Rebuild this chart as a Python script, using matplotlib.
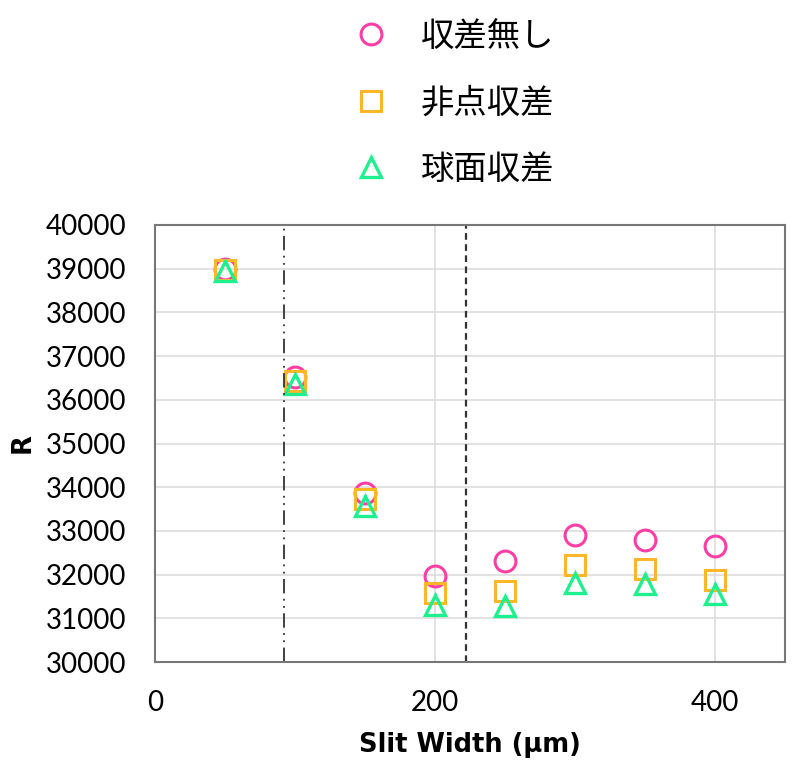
import matplotlib.pyplot as plt

plt.rcParams['font.family'] = ['Lato', 'DejaVu Sans', 'Noto Sans CJK JP']

slit = [50, 100, 150, 200, 250, 300, 350, 400]
r_none = [39000, 36530, 33870, 31970, 32310, 32910, 32790, 32650]
r_astig = [38980, 36420, 33720, 31570, 31620, 32220, 32130, 31880]
r_spher = [38950, 36360, 33580, 31300, 31280, 31810, 31780, 31560]
labels = ['収差無し', '非点収差', '球面収差']
vline_dashdot = 92
vline_dashed = 222

fig = plt.figure(figsize=(8, 7.64), dpi=100)
ax = fig.add_axes([0.194, 0.1335, 0.787, 0.572])

# hollow markers, one series per aberration case
h1, = ax.plot(slit, r_none, 'o', ms=15, mfc='none', mec='#FF3FA4', mew=2.2, label=labels[0])
h2, = ax.plot(slit, r_astig, 's', ms=14.5, mfc='none', mec='#FFB629', mew=2.2, label=labels[1])
h3, = ax.plot(slit, r_spher, '^', ms=15, mfc='none', mec='#1EF08F', mew=2.4, label=labels[2])

ax.axvline(vline_dashdot, color='#333333', lw=1.3, ls=(0, (8, 3, 1, 3, 1, 3)))
ax.axvline(vline_dashed, color='#333333', lw=1.6, ls=(0, (3, 2)))

ax.set_xlim(0, 450)
ax.set_ylim(30000, 40000)
ax.set_xticks([0, 200, 400])
ax.set_yticks(range(30000, 40001, 1000))
ax.grid(True, color='#DDDDDD', lw=1.2)
ax.set_axisbelow(True)
ax.tick_params(length=0, labelsize=20)
ax.tick_params(axis='x', pad=20)
ax.tick_params(axis='y', pad=21)
for s in ax.spines.values():
    s.set_color('#777777')
    s.set_linewidth(1.5)

ax.set_xlabel('Slit Width (μm)', fontsize=18.5, fontweight='bold', family='DejaVu Sans')
ax.xaxis.set_label_coords(0.5, -0.16)
ax.set_ylabel('R', fontsize=18.5, fontweight='bold', family='DejaVu Sans')
ax.yaxis.set_label_coords(-0.19, 0.5)

leg = fig.legend(handles=[h1, h2, h3], loc='upper left', bbox_to_anchor=(0.405, 1.015),
                 frameon=False, labelspacing=0.95, handlelength=1.0,
                 handletextpad=1.0, prop={'family': 'Noto Sans CJK JP', 'size': 24})

fig.savefig('out.png', dpi=100)
